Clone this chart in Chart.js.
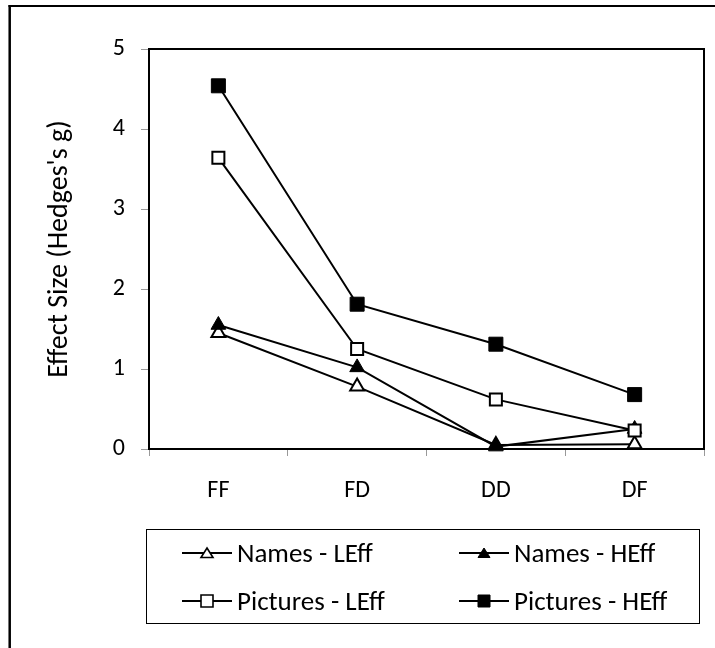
<!DOCTYPE html>
<html><head><meta charset="utf-8">
<script src="https://cdn.jsdelivr.net/npm/chart.js@4"></script>
<style>
html,body{margin:0;padding:0;background:#fff;}
#wrap{position:relative;width:715px;height:648px;overflow:hidden;background:#fff;}
#c{position:absolute;left:0;top:0;}
#legendBox{position:absolute;left:146px;top:529px;width:554px;height:95px;border:1px solid #000;box-sizing:border-box;}
.sym{position:absolute;display:block;}
.txt{position:absolute;font-family:Carlito,Calibri,Lato,sans-serif;font-size:27px;line-height:27px;height:27px;color:#000;white-space:nowrap;}
</style>
</head><body>
<div id="wrap">
<canvas id="c" width="715" height="648"></canvas>
<div id="legendBox"></div>
</div>
<script>
const categories = ['FF', 'FD', 'DD', 'DF'];
const namesLEff = [1.45, 0.78, 0.05, 0.06];
const namesHEff = [1.55, 1.02, 0.03, 0.25];
const picturesLEff = [3.64, 1.25, 0.62, 0.23];
const picturesHEff = [4.54, 1.81, 1.31, 0.68];
const seriesLabels = ['Names - LEff', 'Names - HEff', 'Pictures - LEff', 'Pictures - HEff'];
const yTitle = "Effect Size (Hedges's g)";
const yMin = 0, yMax = 5, yStep = 1;

const FAMILY = "Carlito, Calibri, Lato, sans-serif";
const TICK_FONT = {family: FAMILY, size: 24};
const TITLE_FONT = {family: FAMILY, size: 28};

function ds(label, data, style, filled, radius, order) {
  return {
    label, data, order,
    borderColor: '#000', borderWidth: 2, tension: 0, fill: false,
    pointStyle: style, pointRadius: radius, pointHoverRadius: radius,
    pointBackgroundColor: filled ? '#000' : '#fff',
    pointBorderColor: '#000', pointBorderWidth: filled ? 1 : 2,
    clip: false
  };
}

const framePlugin = {
  id: 'frame',
  beforeDraw(chart) {
    const c = chart.ctx;
    c.save();
    c.fillStyle = '#fff';
    c.fillRect(0, 0, chart.width, chart.height);
    c.strokeStyle = '#000';
    c.lineWidth = 2.5;
    c.beginPath(); c.moveTo(9.7, 5); c.lineTo(9.7, 648); c.stroke();
    c.lineWidth = 2;
    c.beginPath(); c.moveTo(8.5, 6); c.lineTo(715, 6); c.stroke();
    c.restore();
  },
  beforeDatasetsDraw(chart) {
    const {left, top, right, bottom} = chart.chartArea;
    const c = chart.ctx;
    c.save();
    c.strokeStyle = '#000';
    c.lineWidth = 2;
    c.strokeRect(left, top, right - left, bottom - top);
    c.restore();
  }
};

const chart = new Chart(document.getElementById('c'), {
  type: 'line',
  data: {
    labels: categories,
    datasets: [
      ds(seriesLabels[0], namesLEff, 'triangle', false, 8, 4),
      ds(seriesLabels[1], namesHEff, 'triangle', true, 8.5, 3),
      ds(seriesLabels[2], picturesLEff, 'rect', false, 8.5, 2),
      ds(seriesLabels[3], picturesHEff, 'rect', true, 9.9, 1)
    ]
  },
  options: {
    responsive: false, animation: false, devicePixelRatio: 1,
    layout: {padding: {top: 49, right: 11, left: 0, bottom: 0}, autoPadding: false},
    plugins: {legend: {display: false}, tooltip: {enabled: false}},
    scales: {
      x: {
        offset: true,
        grid: {offset: true, drawOnChartArea: false, drawTicks: true, tickLength: 7, color: '#999', lineWidth: 1},
        border: {display: false},
        ticks: {font: TICK_FONT, color: '#000', padding: 21, maxRotation: 0},
        afterFit(s) { s.height = 199; }
      },
      y: {
        min: yMin, max: yMax,
        ticks: {stepSize: yStep, font: TICK_FONT, color: '#000', padding: 16},
        grid: {drawOnChartArea: false, drawTicks: true, tickLength: 8, color: '#999', lineWidth: 1},
        border: {display: false},
        title: {display: true, text: yTitle, font: TITLE_FONT, color: '#000', padding: {top: 43, bottom: 0}},
        afterFit(s) { s.width = 149; }
      }
    }
  },
  plugins: [framePlugin]
});

// HTML legend built from the datasets
const legendPos = [
  {x: 182, y: 553}, {x: 459, y: 553},
  {x: 182, y: 601}, {x: 459, y: 601}
];
const wrap = document.getElementById('wrap');
chart.data.datasets.forEach((d, i) => {
  const p = legendPos[i];
  const cv = document.createElement('canvas');
  cv.className = 'sym';
  cv.width = 50; cv.height = 18;
  cv.style.left = p.x + 'px';
  cv.style.top = (p.y - 9) + 'px';
  const g = cv.getContext('2d');
  g.strokeStyle = '#000'; g.lineWidth = 2;
  g.beginPath(); g.moveTo(0, 9); g.lineTo(50, 9); g.stroke();
  const filled = d.pointBackgroundColor === '#000';
  g.fillStyle = filled ? '#000' : '#fff';
  g.lineWidth = filled ? 1 : 1.6;
  g.beginPath();
  if (d.pointStyle === 'triangle') {
    g.moveTo(25, 4); g.lineTo(31, 13.5); g.lineTo(19, 13.5); g.closePath();
  } else {
    g.rect(19, 3, 12, 12);
  }
  g.fill(); g.stroke();
  wrap.appendChild(cv);
  const sp = document.createElement('div');
  sp.className = 'txt';
  sp.textContent = d.label;
  sp.style.left = (p.x + 55) + 'px';
  sp.style.top = (p.y - 14) + 'px';
  wrap.appendChild(sp);
});
</script>
</body></html>
